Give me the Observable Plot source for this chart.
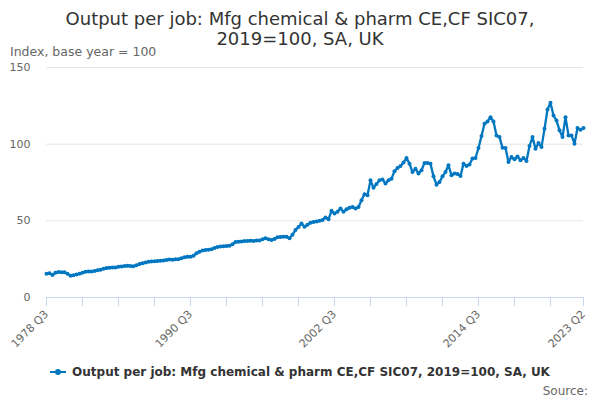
<!DOCTYPE html>
<html><head><meta charset="utf-8">
<script src="https://cdn.jsdelivr.net/npm/d3@7"></script>
<script src="https://cdn.jsdelivr.net/npm/@observablehq/plot@0.6"></script>
<style>
body{margin:0;width:600px;height:400px;overflow:hidden;font-family:"DejaVu Sans",sans-serif;background:#fff}
#title{padding-top:9px;height:36px;font-size:18px;line-height:20px;text-align:center;color:#333;white-space:nowrap}
#ylab{height:16px;padding-left:10px;font-size:12.5px;line-height:14px;color:#666;white-space:nowrap}
#chart svg{display:block}
#legend{height:22px;line-height:22px;text-align:center;font-size:12px;font-weight:bold;color:#333;white-space:nowrap}
#legend .sw{display:inline-block;position:relative;width:16px;height:2px;background:#0077c0;vertical-align:middle;margin-right:6px;top:-1px}
#legend .sw:after{content:"";position:absolute;left:5px;top:-2px;width:6px;height:6px;border-radius:3px;background:#0077c0}
#source{text-align:right;padding-right:12px;font-size:12px;line-height:16px;color:#666}
</style></head>
<body>
<div id="title">Output per job: Mfg chemical &amp; pharm CE,CF SIC07,<br>2019=100, SA, UK</div>
<div id="ylab">Index, base year = 100</div>
<div id="chart"></div>
<div id="legend"><span class="sw"></span>Output per job: Mfg chemical &amp; pharm CE,CF SIC07, 2019=100, SA, UK</div>
<div id="source">Source:</div>
<script>
const startYear = 1978, startQuarter = 3;
const values = [
15.5,15.8,14.7,16.2,16.6,16.5,16.4,15.5,14.2,14.5,
15.0,15.5,16.2,16.8,17.0,17.0,17.3,17.8,18.1,18.7,
19.2,19.4,19.5,19.6,20.0,20.2,20.5,20.7,20.5,20.3,
21.0,21.8,22.3,22.8,23.3,23.5,23.6,23.8,23.9,24.2,
24.5,24.8,24.6,24.9,25.0,25.6,26.2,26.5,26.5,27.2,
28.9,29.8,30.6,31.0,31.2,31.5,32.3,33.0,33.2,33.5,
33.6,33.7,34.8,36.2,36.4,36.6,36.8,36.9,37.0,36.9,
37.1,37.1,38.0,38.6,38.0,37.5,38.2,39.3,39.5,39.6,
39.7,38.6,41.0,44.0,46.0,48.3,46.1,47.5,48.8,49.2,
49.6,50.0,50.5,52.2,51.0,56.5,54.8,56.0,58.0,55.9,
57.5,58.5,59.1,58.0,59.0,63.4,67.3,66.7,76.4,71.6,
74.0,76.4,77.0,74.3,76.4,77.5,82.3,84.5,85.8,88.0,
91.0,87.3,81.8,84.0,80.8,83.0,87.7,87.7,87.3,79.0,
73.6,75.3,79.0,81.8,86.2,79.7,80.8,80.5,79.2,87.3,
85.8,86.7,90.6,91.0,97.5,105.3,113.3,114.8,117.6,114.8,
105.7,104.6,97.7,97.5,88.4,91.6,90.1,92.0,89.5,91.0,
89.0,98.8,104.6,97.0,100.7,98.1,110.0,122.6,127.0,118.7,
115.5,109.0,104.6,117.6,105.7,105.7,100.3,110.5,109.4,110.5
];
const tickLabels = ["1978 Q3","1990 Q3","2002 Q3","2014 Q3","2023 Q2"];
const yTicks = [0,50,100,150];

const periods = values.map((v,i) => {
  const q = startQuarter - 1 + i;
  return `${startYear + Math.floor(q/4)} Q${q%4 + 1}`;
});
const data = periods.map((p,i) => ({period: p, value: values[i]}));
const tickPeriods = periods.filter((p,i) => i % 12 === 0 || i === periods.length - 1);
const color = "#0077c0";

const chart = Plot.plot({
  width: 600,
  height: 300,
  marginLeft: 46,
  marginRight: 17,
  marginTop: 6,
  marginBottom: 64,
  style: {fontFamily: "DejaVu Sans, sans-serif", fontSize: "11px", background: "#fff"},
  x: {type: "point", domain: periods, padding: 0},
  y: {domain: [0,150]},
  marks: [
    Plot.gridY(yTicks.filter(d => d > 0), {stroke: "#e6e6e6", strokeOpacity: 1}),
    Plot.ruleY([0], {stroke: "#ccd6eb"}),
    Plot.axisY({ticks: yTicks, tickSize: 0, tickPadding: 16, fill: "#666", label: null}),
    Plot.axisX({ticks: tickPeriods, tickFormat: d => tickLabels.includes(d) ? d : "", tickRotate: -45, tickSize: 9, stroke: "#ccd6eb", strokeOpacity: 1, fill: "#666", label: null}),
    Plot.lineY(data, {x: "period", y: "value", stroke: color, strokeWidth: 2.3}),
    Plot.dot(data, {x: "period", y: "value", fill: color, r: 2})
  ]
});
document.getElementById("chart").appendChild(chart);
</script>
</body></html>
